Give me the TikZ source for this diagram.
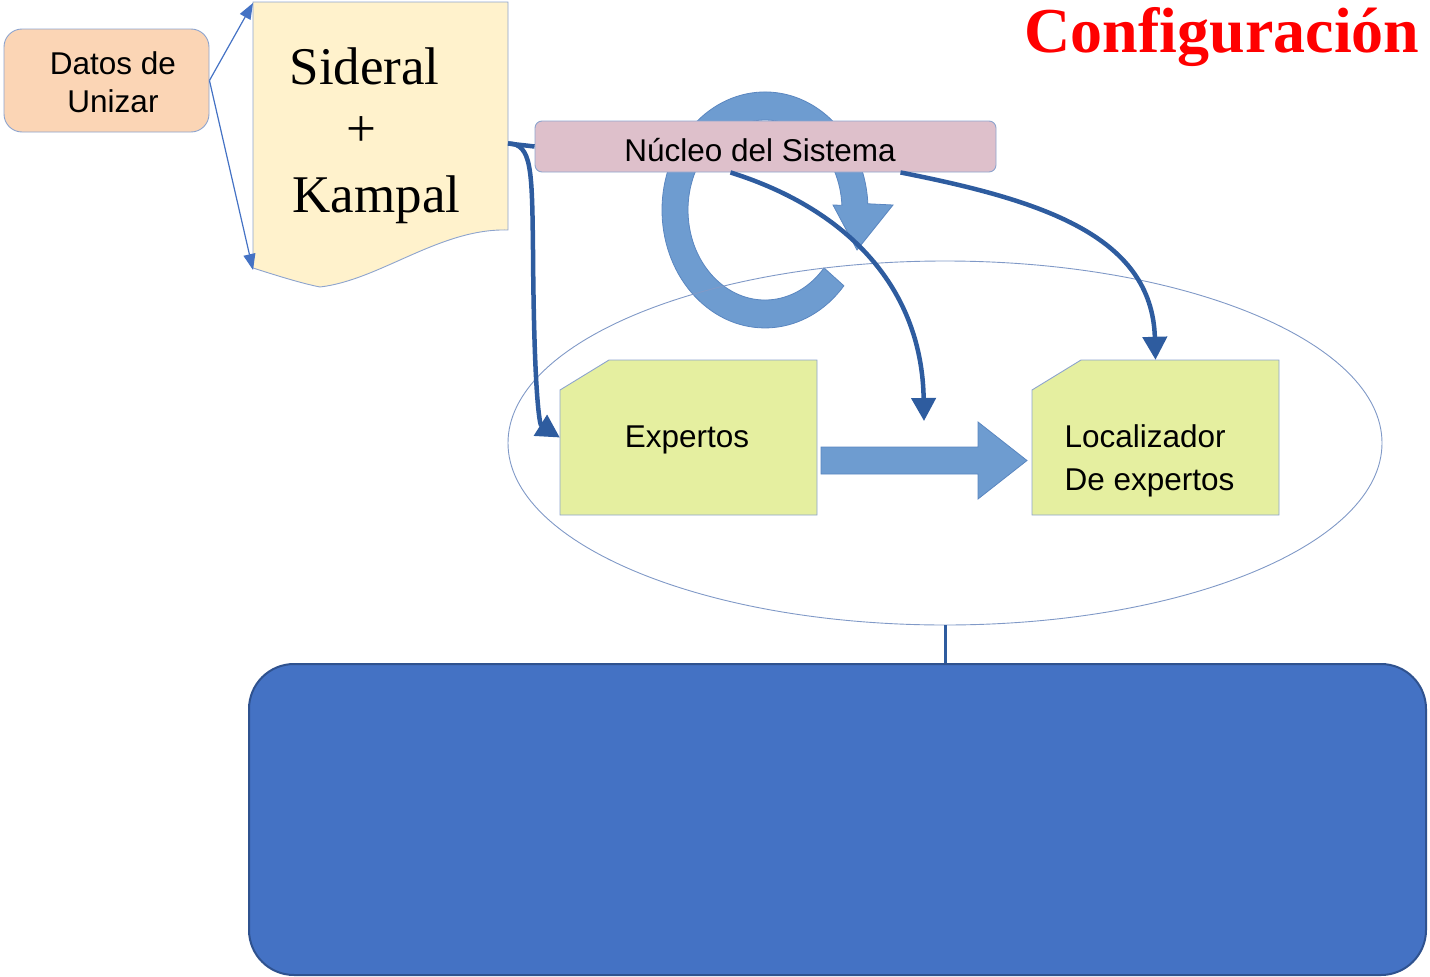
\documentclass[tikz,border=0pt]{standalone}
\usepackage{fontspec}
\setmainfont{Liberation Serif}
\newfontfamily\arialfont{Liberation Sans}
\usetikzlibrary{arrows.meta,shapes.geometric}
\definecolor{peach}{HTML}{FBD5B5}
\definecolor{docyellow}{HTML}{FFF2CC}
\definecolor{edgeblue}{HTML}{8DA4CE}
\definecolor{mauve}{HTML}{DEC0CB}
\definecolor{lime}{HTML}{E5EFA0}
\definecolor{ringblue}{HTML}{6E9CD0}
\definecolor{ringedge}{HTML}{5A86C0}
\definecolor{darkarrow}{HTML}{2E5C9F}
\definecolor{thinblue}{HTML}{4472C4}
\definecolor{bigfill}{HTML}{4472C4}
\definecolor{bigedge}{HTML}{2F528F}
\definecolor{ellipseline}{HTML}{8099C7}
\begin{document}
\begin{tikzpicture}[x=1pt,y=-1pt,
  shapeline/.style={draw=edgeblue, line width=0.9pt},
  thickline/.style={draw=darkarrow, line width=4.5pt},
  thickarrow/.style={thickline, -{Triangle[length=23pt,width=24pt]}},
  thinarrow/.style={draw=thinblue, line width=1.2pt, -{Triangle[length=16pt,width=12pt]}},
  arialtext/.style={font=\arialfont\fontsize{31.5}{38}\selectfont},
  invisbox/.style={draw=none, inner sep=0pt}
]
\useasboundingbox (0,0) rectangle (1430,977);

% circular arrow (drawn first, behind)
\path[fill=ringblue, draw=ringedge, line width=0.8pt]
  (843.9,285.8) arc[start angle=40,end angle=357,x radius=103,y radius=118]
  -- (893,205) -- (857,250) -- (833,205) -- (841.9,205.3)
  arc[start angle=357,end angle=40,x radius=77,y radius=90] -- cycle;

% group ellipse
\node[draw=ellipseline, line width=0.9pt, ellipse, minimum width=874pt, minimum height=364pt, inner sep=0pt] (group) at (945,443) {};

% Datos de Unizar
\node[shapeline, fill=peach, rounded corners=18pt, minimum width=205pt, minimum height=103pt, inner sep=0pt] (datos) at (106.5,80.5) {};
\node[arialtext, align=center] (datostext) at (113,82) {Datos de\\Unizar};

% Sideral + Kampal document
\path[shapeline, fill=docyellow]
  (253,2) -- (508,2) -- (508,230)
  .. controls (440,228) and (380,280) .. (320,287)
  .. controls (300,283) and (275,275) .. (253,268) -- cycle;
\node[invisbox] (doc) at (380.5,136) [minimum width=255pt, minimum height=268pt] {};
\coordinate (docTL) at (253,3);
\coordinate (docBL) at (253,270);
\coordinate (docR) at (508,143.5);
\node[anchor=base west, font=\fontsize{53}{60}\selectfont] (sideral) at (286,84) {Sideral};
\node[font=\fontsize{53}{60}\selectfont] (plus) at (361,132) {+};
\node[anchor=base west, font=\fontsize{53}{60}\selectfont] (kampal) at (289,212) {Kampal};

% title
\node[anchor=base east, text=red, font=\bfseries\fontsize{64}{70}\selectfont] (title) at (1423,52) {Configuración};

% Nucleo del Sistema
\node[shapeline, fill=mauve, rounded corners=7pt, minimum width=461pt, minimum height=51pt, inner sep=0pt] (nucleo) at (765.5,146.5) {};
\node[arialtext] (nucleotext) at (760,150) {Núcleo del Sistema};

% Expertos
\path[shapeline, fill=lime] (560,390) -- (609,360) -- (817,360) -- (817,515) -- (560,515) -- cycle;
\node[invisbox, minimum width=257pt, minimum height=155pt] (expertos) at (688.5,437.5) {};
\node[arialtext] (exptext) at (687,440) {Expertos};

% Localizador
\path[shapeline, fill=lime] (1032,390) -- (1081,360) -- (1279,360) -- (1279,515) -- (1032,515) -- cycle;
\node[invisbox, minimum width=247pt, minimum height=155pt] (loc) at (1155.5,437.5) {};
\node[arialtext, anchor=base west] (loc1) at (1061,447) {Localizador};
\node[arialtext, anchor=base west] (loc2) at (1061,490) {De expertos};

% block arrow Expertos -> Localizador
\path[fill=ringblue, draw=ringedge, line width=0.8pt]
  (821,447) -- (978,447) -- (978,422) -- (1027,460.5) -- (978,499) -- (978,474) -- (821,474) -- cycle;

% big blue box
\node[fill=bigfill, draw=bigedge, line width=2pt, rounded corners=45pt, minimum width=1177pt, minimum height=311pt, inner sep=0pt] (bigbox) at (837.5,819.5) {};

% connectors
\draw[thinarrow] (datos.east) -- (docTL);
\draw[thinarrow] (datos.east) -- (docBL);
\draw[thickline] (docR) -- (nucleo.west);
\draw[thickarrow] (docR) .. controls (532,143.5) and (532,170) .. (533,250)
  .. controls (534,400) and (540,425) .. (expertos.west);
\coordinate (midtip) at (924,421);
\draw[thickarrow] ([xshift=-35pt]nucleo.south) .. controls (850,210) and (922,290) .. (midtip);
\draw[thickarrow] ([xshift=135pt]nucleo.south) .. controls (1040,200) and (1152,235) .. (loc.north);
\draw[draw=darkarrow, line width=3pt] (group.south) -- (group.south |- bigbox.north);
\end{tikzpicture}
\end{document}
